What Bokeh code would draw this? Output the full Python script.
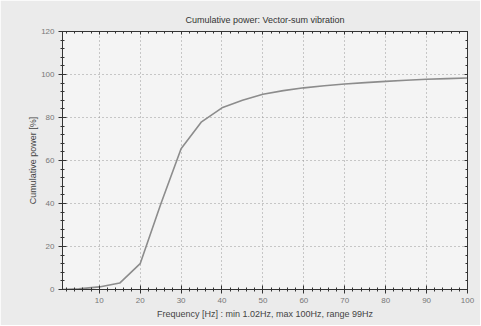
from bokeh.plotting import figure
from bokeh.models import LinearAxis, Range1d, FixedTicker, ColumnDataSource, CustomJSTickFormatter
from bokeh.embed import file_html
from bokeh.resources import INLINE

title_text = "Cumulative power: Vector-sum vibration"
x_label = "Frequency [Hz] : min 1.02Hz, max 100Hz, range 99Hz"
y_label = "Cumulative power [%]"

freq = [1.02, 5, 10, 15, 20, 25, 30, 35, 40, 45, 50, 55, 60, 65, 70, 75, 80, 85, 90, 95, 100]
cum_power = [0.0, 0.3, 1.2, 3.0, 12.0, 39.5, 65.5, 78.0, 84.5, 88.0, 90.8, 92.5, 93.8, 94.8, 95.6, 96.2, 96.8, 97.3, 97.8, 98.1, 98.4]

x_ticks = [10, 20, 30, 40, 50, 60, 70, 80, 90, 100]
y_ticks = [0, 20, 40, 60, 80, 100, 120]

FONT = "Liberation Sans"

p = figure(width=480, height=325, output_backend="svg", toolbar_location=None,
           x_range=Range1d(1.02, 100), y_range=Range1d(0, 120),
           min_border_left=62, min_border_right=13, min_border_top=31, min_border_bottom=36,
           title=title_text)

p.border_fill_color = "#ebebeb"
p.background_fill_color = "#f4f4f4"
p.outline_line_color = "#555555"
p.outline_line_width = 1

p.title.align = "center"
p.title.text_font = FONT
p.title.text_font_size = "9px"
p.title.text_font_style = "normal"
p.title.text_color = "#333333"
p.title.standoff = 13

src = ColumnDataSource(dict(x=freq, y=cum_power))
p.line("x", "y", source=src, line_color="#8c8c8c", line_width=1.6)

for ax in (p.xaxis[0], p.yaxis[0]):
    ax.axis_line_color = "#333333"
    ax.major_tick_line_color = "#333333"
    ax.minor_tick_line_color = "#333333"
    ax.major_tick_in = 4
    ax.major_tick_out = 4
    ax.minor_tick_in = 2
    ax.minor_tick_out = 2
    ax.major_label_text_font = FONT
    ax.major_label_text_font_size = "8px"
    ax.major_label_text_color = "#777777"
    ax.axis_label_text_font = FONT
    ax.axis_label_text_font_size = "9px"
    ax.axis_label_text_font_style = "normal"
    ax.axis_label_text_color = "#444444"

p.xaxis[0].ticker = FixedTicker(ticks=x_ticks, minor_ticks=list(range(2, 101, 2)))
p.yaxis[0].ticker = FixedTicker(ticks=y_ticks, minor_ticks=list(range(0, 121, 4)))
p.xaxis[0].axis_label = x_label
p.yaxis[0].axis_label = y_label
p.xaxis[0].axis_label_standoff = 3
p.yaxis[0].axis_label_standoff = 0
p.xaxis[0].major_label_standoff = 4
p.yaxis[0].major_label_standoff = 4

# mirrored tick-only axes
blank = CustomJSTickFormatter(code="return ''")
top = LinearAxis(ticker=FixedTicker(ticks=x_ticks, minor_ticks=list(range(2, 101, 2))), formatter=blank)
right = LinearAxis(ticker=FixedTicker(ticks=y_ticks, minor_ticks=list(range(0, 121, 4))), formatter=blank)
for ax in (top, right):
    ax.axis_line_color = "#333333"
    ax.major_tick_line_color = "#333333"
    ax.minor_tick_line_color = "#333333"
    ax.major_tick_in = 3
    ax.major_tick_out = 0
    ax.minor_tick_in = 2
    ax.minor_tick_out = 0
    ax.major_label_standoff = 0
p.add_layout(top, "above")
p.add_layout(right, "right")

p.xgrid.ticker = FixedTicker(ticks=x_ticks)
p.ygrid.ticker = FixedTicker(ticks=y_ticks)
p.grid.grid_line_color = "#999999"
p.grid.grid_line_dash = "1 3"
p.grid.grid_line_width = 1

open("out.html", "w").write(file_html(p, INLINE))
